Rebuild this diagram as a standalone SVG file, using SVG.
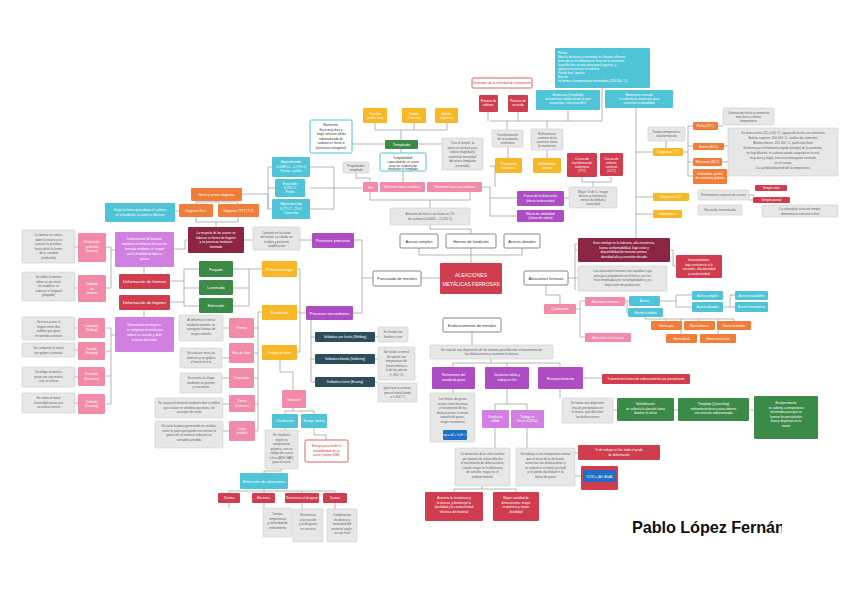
<svg xmlns="http://www.w3.org/2000/svg" width="848" height="599" viewBox="0 0 848 599">
<style>
text{font-family:"Liberation Sans",Arial,sans-serif;text-anchor:middle}
.w{fill:#fff}.k{fill:#333}.g{fill:#666}.rt{fill:#d23b4b}
.s3{font-size:3.1px}.s4{font-size:4px}.s5{font-size:5px}
.l{text-anchor:start}
rect{rx:1.2}
.red{fill:#cf3d4e}.mar{fill:#8c2543}.pink{fill:#f28aa9}.pur{fill:#ad4cc3}.lil{fill:#d17fe0}
.teal{fill:#4ec4d6}.slate{fill:#2e4d5c}.grn{fill:#3c8a48}.yel{fill:#f7b726}.org{fill:#f07e3a}
.gry{fill:#e7e7e7;stroke:#cdcdcd;stroke-width:.6}.wht{fill:#fff;stroke:#555;stroke-width:.7}
.tb{fill:#fff;stroke:#4ec4d6;stroke-width:1}.rb{fill:#fff;stroke:#d23b4b;stroke-width:.8}.blu{fill:#1f6fc6}
.c path{fill:none;stroke:#a3a3a3;stroke-width:.8}
</style>
<rect x="0" y="0" width="848" height="599" fill="#fff" rx="0"/>
<g class="c">
<path d="M419,248V255H522V248M471,255V263M471,248V255"/>
<path d="M430,225V229H471V234"/>
<path d="M440,278H421M373,278H362V240H354M362,278V313H353"/>
<path d="M312,240H300M306,313H300M297,269H300V352H297M297,312H300"/>
<path d="M311,320V382M311,337H315M311,359H315M311,382H315M375,337H378M375,359H378M375,382H378"/>
<path d="M262,269H249V306M233,269H249M233,288H249M233,306H249"/>
<path d="M199,269H184V306H199M199,288H184M170,281H184M170,302H184M144,267V274M144,310V317"/>
<path d="M262,312H258V431H255M254,328H258M254,353H258M254,378H258M254,404H258"/>
<path d="M229,328H223M229,358H222M229,378H222M229,404H223M229,431H223"/>
<path d="M106,247H111V288H106M111,250H115M106,328H111V404H106M106,351H111M106,376H111M111,335H115"/>
<path d="M75,247H78M75,288H78M75,328H78M75,350H78M75,377H78M75,403H78"/>
<path d="M280,360V372H293V390M293,408V411H285V414M293,411H314V414M285,428V430M314,428V435H326V440"/>
<path d="M281,469V471H264V473M264,489V491H229V493M264,491H335V493M264,491V493M302,491V493"/>
<path d="M229,503V508M264,503V508M302,503V509M335,503V509"/>
<path d="M472,332V345M491,359V363H453V367M491,363H560V367M507,363V367"/>
<path d="M453,389V393M507,389V404H495V410M507,404H527V410M495,428V448M527,428V448"/>
<path d="M482,486V489H454V492M482,489H516V492M575,453H578M575,476H581"/>
<path d="M560,389V398M583,378H602M613,410H617M674,410H678M749,410H754"/>
<path d="M546,285V295H560V304M576,309H580V301H585M580,309V337H585"/>
<path d="M625,301H629M627,301V313H628M660,301H676V295H692M676,301V307H692M723,307H730V295H735M730,307H735"/>
<path d="M645,317V319H734M666,319V321M699,319V321M734,319V321M681,319V334M718,319V334"/>
<path d="M568,278H575M575,244V290M575,250H578M575,278H578M575,244H636V226"/>
<path d="M636,108V226M636,152H653M636,197H653M636,214H653M670,250H673V266H676"/>
<path d="M683,152H688M688,126V176M688,126H693M688,146H693M688,162H693M688,176H693M718,126H723M724,146H728M722,162H728M727,176H728"/>
<path d="M666,141V148M742,195H755M749,200H753"/>
<path d="M488,112V121M518,112V121M490,121H602M602,88V121M568,110V121M507,121V130M547,121V129"/>
<path d="M482,187H490V216H517M490,198H517M490,166H495V187M547,150V158M508,147V158"/>
<path d="M582,177V182H611V177M593,182V187M564,198H569"/>
<path d="M370,192V200H470V192M430,200V208"/>
<path d="M310,167H334V209H310M310,188H334M334,188H363"/>
<path d="M401,148V153M418,144H442M385,144H352M375,123V130H447V123M414,123V130M401,130V140M403,171V182M356,173V178H370V182"/>
<path d="M216,201V202H196V204M216,202H238V204M196,217V222H238V217M216,222V227M175,211H179"/>
<path d="M242,194H268V209H272M268,167V209M268,167H272M268,188H275"/>
<path d="M244,240H253M174,249H185V240H188"/>
</g>

<g id="n-aleaciones"><rect class="red" x="440" y="263" width="62" height="31"/><text class="w s5" x="471" y="276.5">ALEACIONES</text><text class="w s5" x="471" y="285.5">METÁLICAS FERROSAS</text></g>
<g id="n-aceros-simples"><rect class="wht" x="400" y="234" width="38" height="14"/><text class="k s4" x="419" y="242.5">Aceros simples</text></g>
<g id="n-hierros-fundicion"><rect class="wht" x="446" y="234" width="50" height="14"/><text class="k s4" x="471" y="242.5">Hierros de fundición</text></g>
<g id="n-aceros-aleados"><rect class="wht" x="504" y="234" width="36" height="14"/><text class="k s4" x="522" y="242.5">Aceros aleados</text></g>
<g id="n-aleaciones-ferrosas"><rect class="wht" x="524" y="271" width="44" height="14"/><text class="k s4" x="546" y="279.5">Aleaciones ferrosas</text></g>
<g id="n-procesado"><rect class="wht" x="373" y="271" width="48" height="15"/><text class="k s4" x="397" y="280">Procesado de metales</text></g>
<g id="n-endurecimiento"><rect class="wht" x="443" y="318" width="58" height="14"/><text class="k s4" x="472" y="326.5">Endurecimiento de metales</text></g>
<g id="n-def-acero"><rect class="gry" x="390" y="208" width="80" height="17"/><text class="g s3" x="430" y="215">Aleación de hierro con hasta un 2%</text><text class="g s3" x="430" y="220">de carbono (0,008% – 2,14% C)</text></g>

<g id="n-fe"><rect class="pink" x="363" y="182" width="15" height="10"/><text class="w s4" x="370.5" y="188.5">Fe</text></g>
<g id="n-fases"><rect class="pink" x="380" y="182" width="45" height="10"/><text class="w s3" x="402.5" y="188.3">Diferentes fases cristalinas</text></g>
<g id="n-fases-c"><rect class="pink" x="427" y="182" width="55" height="10"/><text class="w s3" x="454.5" y="188.3">Diferentes fases con carbono</text></g>
<g id="n-templado"><rect class="grn" x="385" y="140" width="33" height="9"/><text class="w s4" x="401.5" y="146">Templado</text></g>
<g id="n-templabilidad"><rect class="tb" x="380" y="153" width="46" height="18"/><text class="k s3" x="403" y="158.5">Templabilidad:</text><text class="k s3" x="403" y="162.5">capacidad de un acero</text><text class="k s3" x="403" y="166.5">para ser endurecido</text><text class="k s3" x="403" y="170">mediante el templado</text></g>
<g id="n-troostita"><rect class="yel" x="363" y="108" width="24" height="15"/><text class="w s3" x="375" y="114.5">Troostita</text><text class="w s3" x="375" y="118.5">(perlita fina)</text></g>
<g id="n-sorbita"><rect class="yel" x="402" y="108" width="24" height="15"/><text class="w s3" x="414" y="114.5">Sorbita</text><text class="w s3" x="414" y="118.5">(Ostenita)</text></g>
<g id="n-bainita"><rect class="yel" x="435" y="108" width="23" height="15"/><text class="w s3" x="446.5" y="114.5">Bainita</text><text class="w s3" x="446.5" y="118.5">(superior)</text></g>
<g id="n-martensita"><rect class="tb" x="310" y="120" width="42" height="33"/><text class="k s3" x="331" y="126">Martensita:</text><text class="k s3" x="331" y="130.5">Fase muy dura y</text><text class="k s3" x="331" y="135">frágil, solución sólida</text><text class="k s3" x="331" y="139.5">sobresaturada de</text><text class="k s3" x="331" y="144">carbono en hierro α</text><text class="k s3" x="331" y="148.5">(estructura tetragonal)</text></g>
<g id="n-prop-templado"><rect class="gry" x="343" y="162" width="26" height="11"/><text class="g s3" x="356" y="166.5">Propiedades</text><text class="g s3" x="356" y="170.5">templado</text></g>
<g id="n-revenido"><rect class="gry" x="442" y="138" width="41" height="32"/><text class="g s3" x="462.5" y="144">Tras el temple, la</text><text class="g s3" x="462.5" y="148.5">pieza se reviene para</text><text class="g s3" x="462.5" y="153">reducir fragilidad y</text><text class="g s3" x="462.5" y="157.5">aumentar tenacidad</text><text class="g s3" x="462.5" y="162">del acero templado</text><text class="g s3" x="462.5" y="166.5">(revenido)</text></g>
<g id="n-hipo"><rect class="teal" x="272" y="157" width="38" height="20"/><text class="w s3" x="291" y="163">Hipoeutectoide</text><text class="w s3" x="291" y="167.5">(0,008% C - 0,77% C)</text><text class="w s3" x="291" y="172">Ferrita + perlita</text></g>
<g id="n-eutectoide"><rect class="teal" x="275" y="179" width="30" height="18"/><text class="w s3" x="290" y="184.5">Eutectoide</text><text class="w s3" x="290" y="188.8">0,77% C</text><text class="w s3" x="290" y="193">Perlita</text></g>
<g id="n-hiper"><rect class="teal" x="272" y="199" width="38" height="20"/><text class="w s3" x="291" y="205">Hipereutectoide</text><text class="w s3" x="291" y="209.5">0,77% C - 2% C</text><text class="w s3" x="291" y="214">Cementita</text></g>

<g id="n-hierro-aceros"><rect class="org" x="191" y="188" width="51" height="13"/><text class="w s3" x="216.5" y="195.8">Hierro y aceros: diagrama</text></g>
<g id="n-diag-fec"><rect class="org" x="179" y="204" width="34" height="13"/><text class="w s3" x="196" y="211.8">Diagrama Fe-C</text></g>
<g id="n-diag-ttt"><rect class="org" x="218" y="204" width="41" height="13"/><text class="w s3" x="238.5" y="211.8">Diagrama TTT (T-T-T)</text></g>
<g id="n-forma-c"><rect class="teal" x="105" y="203" width="70" height="19" rx="6"/><text class="w s3" x="140" y="210.5">Según la forma que adopta el carbono</text><text class="w s3" x="140" y="215.5">en la fundición, su color es diferente</text></g>

<g id="n-lingotes"><rect class="mar" x="188" y="227" width="56" height="26"/><text class="w s3" x="216" y="234">La mayoría de los aceros se</text><text class="w s3" x="216" y="238.5">fabrican en forma de lingotes</text><text class="w s3" x="216" y="243">y se procesan mediante</text><text class="w s3" x="216" y="247.5">laminado</text></g>
<g id="n-fusion"><rect class="gry" x="253" y="227" width="47" height="23"/><text class="g s3" x="276.5" y="233.5">Consiste en la fusión</text><text class="g s3" x="276.5" y="238">del metal, su colada en</text><text class="g s3" x="276.5" y="242.5">moldes y posterior</text><text class="g s3" x="276.5" y="247">solidificación</text></g>
<g id="n-primarios"><rect class="pur" x="312" y="233" width="42" height="15"/><text class="w s4" x="333" y="242">Procesos primarios</text></g>
<g id="n-conf-laminas"><rect class="lil" x="115" y="232" width="59" height="35"/><text class="w s3" x="144.5" y="240">Conformación de láminas:</text><text class="w s3" x="144.5" y="245">mediante el esfuerzo de tracción</text><text class="w s3" x="144.5" y="250">formado mediante un troquel</text><text class="w s3" x="144.5" y="255">con la finalidad de fabricar</text><text class="w s3" x="144.5" y="260">piezas</text></g>
<g id="n-def-laminas"><rect class="red" x="119" y="274" width="51" height="15"/><text class="w s4" x="144.5" y="283">Deformación de láminas</text></g>
<g id="n-def-lingotes"><rect class="red" x="119" y="295" width="51" height="15"/><text class="w s4" x="144.5" y="304">Deformación de lingotes</text></g>
<g id="n-def-lingotes2"><rect class="lil" x="115" y="317" width="59" height="35"/><text class="w s3" x="144.5" y="326">Deformación en lingotes:</text><text class="w s3" x="144.5" y="331">se comprime el metal para</text><text class="w s3" x="144.5" y="336">reducir su sección y darle</text><text class="w s3" x="144.5" y="341">la forma del molde</text></g>
<g id="n-forjado"><rect class="grn" x="199" y="261" width="34" height="16"/><text class="w s4" x="216" y="270.5">Forjado</text></g>
<g id="n-laminado"><rect class="grn" x="199" y="280" width="34" height="15"/><text class="w s4" x="216" y="289">Laminado</text></g>
<g id="n-extrusion"><rect class="grn" x="199" y="298" width="34" height="15"/><text class="w s4" x="216" y="307">Extrusión</text></g>
<g id="n-pulvi"><rect class="yel" x="262" y="261" width="35" height="16"/><text class="w s4" x="279.5" y="270.5">Pulvimetalurgia</text></g>
<g id="n-fundicion"><rect class="yel" x="262" y="305" width="35" height="15"/><text class="w s4" x="279.5" y="314">Fundición</text></g>
<g id="n-viruta"><rect class="yel" x="262" y="345" width="35" height="15"/><text class="w s3" x="279.5" y="353.8">Trabajo de viruta</text></g>
<g id="n-secundarios"><rect class="pur" x="306" y="306" width="47" height="14"/><text class="w s4" x="329.5" y="314.5">Procesos secundarios</text></g>
<g id="n-welding"><rect class="slate" x="315" y="332" width="60" height="10"/><text class="w s3" x="345" y="338.2">Soldadura por fusión (Welding)</text></g>
<g id="n-soldering"><rect class="slate" x="315" y="354" width="60" height="10"/><text class="w s3" x="345" y="360.2">Soldadura blanda (Soldering)</text></g>
<g id="n-brazing"><rect class="slate" x="315" y="377" width="60" height="10"/><text class="w s3" x="345" y="383.2">Soldadura fuerte (Brazing)</text></g>
<g id="n-welding-note"><rect class="gry" x="378" y="327" width="30" height="15"/><text class="g s3" x="393" y="333">Se funden los</text><text class="g s3" x="393" y="337.5">bordes a unir</text></g>
<g id="n-soldering-note"><rect class="gry" x="378" y="347" width="37" height="33"/><text class="g s3" x="396.5" y="353">Se funde un metal</text><text class="g s3" x="396.5" y="357.5">de aporte con</text><text class="g s3" x="396.5" y="362">temperatura de</text><text class="g s3" x="396.5" y="366.5">fusión inferior a</text><text class="g s3" x="396.5" y="371">la de las piezas</text><text class="g s3" x="396.5" y="375.5">(&lt; 450 °C)</text></g>
<g id="n-brazing-note"><rect class="gry" x="378" y="383" width="39" height="19"/><text class="g s3" x="397.5" y="389">Igual que la anterior,</text><text class="g s3" x="397.5" y="393.5">pero el metal funde</text><text class="g s3" x="397.5" y="398">a &gt; 450 °C</text></g>

<g id="n-p-prensa"><rect class="pink" x="229" y="318" width="25" height="20"/><text class="w s3" x="241.5" y="329">Prensa</text></g>
<g id="n-p-hoja"><rect class="pink" x="229" y="343" width="25" height="20"/><text class="w s3" x="241.5" y="354">Hoja de Steel</text></g>
<g id="n-p-ensayo"><rect class="pink" x="229" y="368" width="25" height="20"/><text class="w s3" x="241.5" y="379">Troquelado</text></g>
<g id="n-p-cortes"><rect class="pink" x="229" y="395" width="26" height="17"/><text class="w s3" x="242" y="402">Cortes</text><text class="w s3" x="242" y="406.5">(Cortante)</text></g>
<g id="n-p-corte"><rect class="pink" x="229" y="421" width="26" height="20"/><text class="w s3" x="242" y="429.5">Corte</text><text class="w s3" x="242" y="434">perdido</text></g>
<g id="n-g1"><rect class="gry" x="179" y="315" width="44" height="26"/><text class="g s3" x="201" y="321">Al deformar el metal</text><text class="g s3" x="201" y="325.5">mediante presión, se</text><text class="g s3" x="201" y="330">consiguen formas de</text><text class="g s3" x="201" y="334.5">mayor tamaño</text></g>
<g id="n-g2"><rect class="gry" x="180" y="348" width="42" height="20"/><text class="g s3" x="201" y="354">Se colocan entre las</text><text class="g s3" x="201" y="358.5">matrices y se golpea</text><text class="g s3" x="201" y="363">el metal en frío</text></g>
<g id="n-g3"><rect class="gry" x="180" y="373" width="42" height="20"/><text class="g s3" x="201" y="379">Se recorta la chapa</text><text class="g s3" x="201" y="383.5">mediante un punzón</text><text class="g s3" x="201" y="388">y una matriz</text></g>
<g id="n-g4"><rect class="gry" x="155" y="398" width="68" height="20"/><text class="g s3" x="189" y="404">Se separa el material mediante dos cuchillas</text><text class="g s3" x="189" y="408.5">que actúan en sentidos opuestos, sin</text><text class="g s3" x="189" y="413">arranque de viruta</text></g>
<g id="n-g5"><rect class="gry" x="155" y="421" width="68" height="27"/><text class="g s3" x="189" y="427">Se corta la pieza generando un residuo,</text><text class="g s3" x="189" y="431.5">como la parte que queda tras extraer la</text><text class="g s3" x="189" y="436">pieza útil; el material sobrante se</text><text class="g s3" x="189" y="440.5">considera pérdida</text></g>

<g id="n-fl1"><rect class="gry" x="22" y="230" width="53" height="33"/><text class="g s3" x="48.5" y="236">La lámina se coloca</text><text class="g s3" x="48.5" y="240.5">sobre la matriz y un</text><text class="g s3" x="48.5" y="245">punzón la presiona</text><text class="g s3" x="48.5" y="249.5">hasta darle la forma</text><text class="g s3" x="48.5" y="254">de la cavidad</text><text class="g s3" x="48.5" y="258.5">(embutido)</text></g>
<g id="n-fp1"><rect class="pink" x="78" y="233" width="28" height="29"/><text class="w s3" x="92" y="243">Embutición</text><text class="w s3" x="92" y="247.5">profunda</text><text class="w s3" x="92" y="252">(láminas)</text></g>
<g id="n-fl2"><rect class="gry" x="22" y="272" width="53" height="29"/><text class="g s3" x="48.5" y="278">Se dobla la lámina</text><text class="g s3" x="48.5" y="282.5">sobre un eje recto,</text><text class="g s3" x="48.5" y="287">sin modificar su</text><text class="g s3" x="48.5" y="291.5">espesor ni longitud</text><text class="g s3" x="48.5" y="296">(plegado)</text></g>
<g id="n-fp2"><rect class="pink" x="78" y="275" width="28" height="27"/><text class="w s3" x="92" y="285">Doblado</text><text class="w s3" x="92" y="289.5">de</text><text class="w s3" x="92" y="294">láminas</text></g>
<g id="n-fl3"><rect class="gry" x="22" y="317" width="53" height="23"/><text class="g s3" x="48.5" y="323">Se hace pasar el</text><text class="g s3" x="48.5" y="327.5">lingote entre dos</text><text class="g s3" x="48.5" y="332">rodillos que giran</text><text class="g s3" x="48.5" y="336.5">en sentido contrario</text></g>
<g id="n-fp3"><rect class="pink" x="78" y="318" width="27" height="20"/><text class="w s3" x="91.5" y="326.5">Laminado</text><text class="w s3" x="91.5" y="331">(Rolling)</text></g>
<g id="n-fl4"><rect class="gry" x="22" y="343" width="53" height="14"/><text class="g s3" x="48.5" y="349">Se comprime el metal</text><text class="g s3" x="48.5" y="353.5">por golpes o presión</text></g>
<g id="n-fp4"><rect class="pink" x="78" y="342" width="27" height="18"/><text class="w s3" x="91.5" y="349.5">Forjado</text><text class="w s3" x="91.5" y="354">(Forging)</text></g>
<g id="n-fl5"><rect class="gry" x="22" y="367" width="53" height="20"/><text class="g s3" x="48.5" y="373">Se obliga al metal a</text><text class="g s3" x="48.5" y="377.5">pasar por una matriz</text><text class="g s3" x="48.5" y="382">con un orificio</text></g>
<g id="n-fp5"><rect class="pink" x="78" y="367" width="27" height="19"/><text class="w s3" x="91.5" y="375">Extrusión</text><text class="w s3" x="91.5" y="379.5">(Extrusion)</text></g>
<g id="n-fl6"><rect class="gry" x="22" y="393" width="53" height="20"/><text class="g s3" x="48.5" y="399">Se estira el metal</text><text class="g s3" x="48.5" y="403.5">haciéndolo pasar por</text><text class="g s3" x="48.5" y="408">un orificio cónico</text></g>
<g id="n-fp6"><rect class="pink" x="78" y="394" width="27" height="20"/><text class="w s3" x="91.5" y="402.5">Trefilado</text><text class="w s3" x="91.5" y="407">(Drawing)</text></g>

<g id="n-soldadura"><rect class="pink" x="282" y="390" width="24" height="18"/><text class="w s3" x="294" y="400.5">Selección</text></g>
<g id="n-clasificacion"><rect class="teal" x="272" y="414" width="26" height="14"/><text class="w s3" x="285" y="422.3">Clasificación</text></g>
<g id="n-jominy"><rect class="teal" x="301" y="414" width="26" height="14"/><text class="w s3" x="314" y="422.3">Ensayo Jominy</text></g>
<g id="n-clas-note"><rect class="gry" x="265" y="430" width="33" height="39"/><text class="g s3" x="281.5" y="436">Se clasifican</text><text class="g s3" x="281.5" y="440.5">según su</text><text class="g s3" x="281.5" y="445">composición</text><text class="g s3" x="281.5" y="449.5">química, con un</text><text class="g s3" x="281.5" y="454">código de cuatro</text><text class="g s3" x="281.5" y="458.5">cifras (AISI-SAE)</text><text class="g s3" x="281.5" y="463">para el acero</text></g>
<g id="n-jominy-note"><rect class="rb" x="305" y="440" width="43" height="22"/><text class="rt s3" x="326.5" y="447">Ensayo para medir la</text><text class="rt s3" x="326.5" y="451.5">templabilidad de un</text><text class="rt s3" x="326.5" y="456">acero (norma UNE)</text></g>
<g id="n-seleccion"><rect class="teal" x="240" y="473" width="48" height="16"/><text class="w s4" x="264" y="482.5">Selección de aleaciones</text></g>
<g id="n-termica"><rect class="red" x="218" y="493" width="22" height="10"/><text class="w s3" x="229" y="499.2">Térmica</text></g>
<g id="n-mecanica"><rect class="red" x="252" y="493" width="23" height="10"/><text class="w s3" x="263.5" y="499.2">Mecánica</text></g>
<g id="n-resistencia"><rect class="red" x="285" y="493" width="34" height="10"/><text class="w s3" x="302" y="499.2">Resistencia al desgaste</text></g>
<g id="n-dureza"><rect class="red" x="323" y="493" width="24" height="10"/><text class="w s3" x="335" y="499.2">Dureza</text></g>
<g id="n-sel-g1"><rect class="gry" x="263" y="508" width="29" height="29"/><text class="g s3" x="277.5" y="515">Tiempo,</text><text class="g s3" x="277.5" y="519.5">temperatura</text><text class="g s3" x="277.5" y="524">y velocidad de</text><text class="g s3" x="277.5" y="528.5">enfriamiento</text></g>
<g id="n-sel-g2"><rect class="gry" x="293" y="509" width="30" height="33"/><text class="g s3" x="308" y="516">Resistencia</text><text class="g s3" x="308" y="520.5">a la tracción</text><text class="g s3" x="308" y="525">y al desgaste</text><text class="g s3" x="308" y="529.5">en servicio</text></g>
<g id="n-sel-g3"><rect class="gry" x="327" y="509" width="30" height="33"/><text class="g s3" x="342" y="516">Combinación</text><text class="g s3" x="342" y="520.5">de dureza y</text><text class="g s3" x="342" y="525">tenacidad del</text><text class="g s3" x="342" y="529.5">material según</text><text class="g s3" x="342" y="534">su uso final</text></g>

<g id="n-distribucion"><rect class="gry" x="430" y="345" width="123" height="14"/><text class="g s3" x="491.5" y="350.8">Se trata de una disposición de los átomos para dificultar el movimiento de</text><text class="g s3" x="491.5" y="355.3">las dislocaciones y aumentar la dureza</text></g>
<g id="n-grano"><rect class="pur" x="432" y="367" width="43" height="22"/><text class="w s3" x="453.5" y="376">Refinamiento del</text><text class="w s3" x="453.5" y="380.5">tamaño de grano</text></g>
<g id="n-soluto"><rect class="pur" x="485" y="367" width="44" height="22"/><text class="w s3" x="507" y="376">Disolución sólida y</text><text class="w s3" x="507" y="380.5">trabajo en frío</text></g>
<g id="n-envejecimiento"><rect class="pur" x="538" y="367" width="45" height="22"/><text class="w s4" x="560.5" y="379.5">Envejecimiento</text></g>
<g id="n-hallpetch"><rect class="gry" x="430" y="393" width="45" height="49"/><text class="g s3" x="452.5" y="400">Los límites de grano</text><text class="g s3" x="452.5" y="404.5">actúan como barreras</text><text class="g s3" x="452.5" y="409">al movimiento de las</text><text class="g s3" x="452.5" y="413.5">dislocaciones; a menor</text><text class="g s3" x="452.5" y="418">tamaño de grano,</text><text class="g s3" x="452.5" y="422.5">mayor resistencia</text><rect class="blu" x="443" y="430" width="24" height="10"/><text class="w s3" x="455" y="436.2">σy = σ0 + k·d^-½</text></g>
<g id="n-solucion"><rect class="lil" x="482" y="410" width="27" height="18"/><text class="w s3" x="495.5" y="417.5">Disolución</text><text class="w s3" x="495.5" y="422">sólida</text></g>
<g id="n-frio"><rect class="lil" x="511" y="410" width="33" height="18"/><text class="w s3" x="527.5" y="417.5">Trabajo en</text><text class="w s3" x="527.5" y="422">frío (&lt; 0,33Tm)</text></g>
<g id="n-sol-note"><rect class="gry" x="455" y="448" width="55" height="38"/><text class="g s3" x="482.5" y="455">La distorsión de la red cristalina</text><text class="g s3" x="482.5" y="459.5">por átomos de soluto dificulta</text><text class="g s3" x="482.5" y="464">el movimiento de dislocaciones;</text><text class="g s3" x="482.5" y="468.5">cuanto mayor es la diferencia</text><text class="g s3" x="482.5" y="473">de tamaño, mayor es el</text><text class="g s3" x="482.5" y="477.5">endurecimiento</text></g>
<g id="n-frio-note"><rect class="gry" x="516" y="448" width="59" height="38"/><text class="g s3" x="545.5" y="455">Se trabaja a una temperatura menor</text><text class="g s3" x="545.5" y="459.5">que el tercio de la de fusión;</text><text class="g s3" x="545.5" y="464">aumentan las dislocaciones y</text><text class="g s3" x="545.5" y="468.5">se endurece el metal (acritud)</text><text class="g s3" x="545.5" y="473">y se pierde ductilidad en la</text><text class="g s3" x="545.5" y="477.5">forma de grano</text></g>
<g id="n-red1"><rect class="red" x="425" y="492" width="58" height="29"/><text class="w s3" x="454" y="499">Aumenta la resistencia y</text><text class="w s3" x="454" y="503.5">la dureza, y disminuye la</text><text class="w s3" x="454" y="508">ductilidad y la conductividad</text><text class="w s3" x="454" y="512.5">eléctrica del material</text></g>
<g id="n-red2"><rect class="red" x="493" y="492" width="46" height="29"/><text class="w s3" x="516" y="499">Mayor cantidad de</text><text class="w s3" x="516" y="503.5">dislocaciones: mayor</text><text class="w s3" x="516" y="508">resistencia y menor</text><text class="w s3" x="516" y="512.5">ductilidad</text></g>
<g id="n-pct-frio"><rect class="red" x="578" y="445" width="82" height="15"/><text class="w s3" x="619" y="451.3">% de trabajo en frío: mide el grado</text><text class="w s3" x="619" y="455.8">de deformación</text></g>
<g id="n-formula"><rect class="red" x="581" y="466" width="37" height="24"/><rect class="blu" x="583" y="470" width="33" height="12"/><text class="w s3" x="599.5" y="477.5">%CW = (A0−Af)/A0</text></g>
<g id="n-env-note"><rect class="gry" x="562" y="398" width="51" height="25"/><text class="g s3" x="587.5" y="404">Se forma una dispersión</text><text class="g s3" x="587.5" y="408.5">fina de precipitados en</text><text class="g s3" x="587.5" y="413">la matriz, que dificultan</text><text class="g s3" x="587.5" y="417.5">las dislocaciones</text></g>
<g id="n-env-red"><rect class="red" x="602" y="374" width="88" height="10"/><text class="w s3" x="646" y="380.2">Tratamiento térmico de endurecimiento por precipitación</text></g>
<g id="n-solubilizacion"><rect class="grn" x="617" y="398" width="57" height="23"/><text class="w s3" x="645.5" y="405">Solubilización</text><text class="w s3" x="645.5" y="409.5">se calienta la aleación hasta</text><text class="w s3" x="645.5" y="414">disolver el soluto</text></g>
<g id="n-quenching"><rect class="grn" x="678" y="398" width="71" height="23"/><text class="w s3" x="713.5" y="405">Templado (Quenching)</text><text class="w s3" x="713.5" y="409.5">enfriamiento brusco para obtener</text><text class="w s3" x="713.5" y="414">una solución sobresaturada</text></g>
<g id="n-aging"><rect class="grn" x="754" y="396" width="64" height="43"/><text class="w s3" x="786" y="404">Envejecimiento</text><text class="w s3" x="786" y="408.5">se calienta a temperatura</text><text class="w s3" x="786" y="413">intermedia para que se</text><text class="w s3" x="786" y="417.5">formen los precipitados</text><text class="w s3" x="786" y="422">finos y dispersos en la</text><text class="w s3" x="786" y="426.5">matriz</text></g>

<g id="n-gran-maroon"><rect class="mar" x="578" y="238" width="92" height="24"/><text class="w s3" x="624" y="244">Gran tonelaje en la industria, alta resistencia,</text><text class="w s3" x="624" y="248.5">buena conformabilidad, bajo coste y</text><text class="w s3" x="624" y="253">disponibilidad de materias primas;</text><text class="w s3" x="624" y="257.5">densidad alta y corrosión elevada</text></g>
<g id="n-gran-gray"><rect class="gry" x="578" y="266" width="89" height="25"/><text class="g s3" x="622.5" y="272">Las aleaciones ferrosas son aquellas cuyo</text><text class="g s3" x="622.5" y="276.5">principal componente es el hierro; son las</text><text class="g s3" x="622.5" y="281">más empleadas por sus propiedades y su</text><text class="g s3" x="622.5" y="285.5">bajo coste de producción</text></g>
<g id="n-prop-red"><rect class="red" x="676" y="255" width="46" height="23"/><text class="w s3" x="699" y="261">Inconvenientes:</text><text class="w s3" x="699" y="265.5">baja resistencia a la</text><text class="w s3" x="699" y="270">corrosión, alta densidad</text><text class="w s3" x="699" y="274.5">y conductividad</text></g>
<g id="n-clasif"><rect class="pink" x="544" y="304" width="32" height="10"/><text class="w s3" x="560" y="310.2">Clasificación</text></g>
<g id="n-al-ferrosas"><rect class="pink" x="585" y="297" width="40" height="9"/><text class="w s3" x="605" y="302.8">Aleaciones ferrosas</text></g>
<g id="n-al-noferrosas"><rect class="pink" x="585" y="333" width="46" height="9"/><text class="w s3" x="608" y="338.8">Aleaciones no ferrosas</text></g>
<g id="n-aceros"><rect class="teal" x="629" y="296" width="31" height="10"/><text class="w s3" x="644.5" y="302.2">Aceros</text></g>
<g id="n-hfundidos"><rect class="teal" x="628" y="308" width="35" height="9"/><text class="w s3" x="645.5" y="313.8">Hierros fundidos</text></g>
<g id="n-ac-simples"><rect class="teal" x="692" y="291" width="31" height="9"/><text class="w s3" x="707.5" y="296.8">Aceros simples</text></g>
<g id="n-ac-aleados"><rect class="teal" x="692" y="302" width="31" height="10"/><text class="w s3" x="707.5" y="308.2">Aceros aleados</text></g>
<g id="n-ac-inox"><rect class="teal" x="735" y="291" width="33" height="9"/><text class="w s3" x="751.5" y="296.8">Aceros inoxidables</text></g>
<g id="n-ac-herr"><rect class="teal" x="735" y="302" width="33" height="10"/><text class="w s3" x="751.5" y="308.2">Aceros herramienta</text></g>
<g id="n-h-gris"><rect class="org" x="651" y="321" width="31" height="9"/><text class="w s3" x="666.5" y="326.8">Hierro gris</text></g>
<g id="n-h-blanco"><rect class="org" x="684" y="321" width="31" height="9"/><text class="w s3" x="699.5" y="326.8">Hierro blanco</text></g>
<g id="n-h-maleable"><rect class="org" x="717" y="321" width="34" height="9"/><text class="w s3" x="734" y="326.8">Hierro maleable</text></g>
<g id="n-h-ductil"><rect class="org" x="666" y="334" width="31" height="9"/><text class="w s3" x="681.5" y="339.8">Hierro dúctil</text></g>
<g id="n-h-vermicular"><rect class="org" x="700" y="334" width="36" height="9"/><text class="w s3" x="718" y="339.8">Hierro vermicular</text></g>

<g id="n-teal-big"><rect class="teal" x="555" y="48" width="95" height="40"/><text class="w s3 l" x="558" y="53.5">Perlita:</text><text class="w s3 l" x="558" y="57.5">Mezcla de ferrita y cementita en láminas alternas</text><text class="w s3 l" x="558" y="61.5">formada en el enfriamiento lento de la austenita;</text><text class="w s3 l" x="558" y="65.5">la perlita fina es más dura que la gruesa, y</text><text class="w s3 l" x="558" y="69.5">aparece en aceros al carbono.</text><text class="w s3 l" x="558" y="73.5">Perlita fina / gruesa</text><text class="w s3 l" x="558" y="77.5">Bainita:</text><text class="w s3 l" x="558" y="81.5">se forma a temperaturas intermedias (250-550 °C)</text></g>
<g id="n-teal-mt"><rect class="teal" x="536" y="90" width="64" height="20"/><text class="w s3" x="568" y="95.5">Martensita (Templado)</text><text class="w s3" x="568" y="99.5">enfriamiento rápido desde la fase</text><text class="w s3" x="568" y="103.5">austenítica, estructura BCT</text></g>
<g id="n-teal-rev"><rect class="teal" x="605" y="90" width="68" height="18"/><text class="w s3" x="639" y="95.5">Martensita revenida</text><text class="w s3" x="639" y="99.5">se calienta la martensita para</text><text class="w s3" x="639" y="103.5">aumentar su ductilidad</text></g>
<g id="n-rb-note"><rect class="rb" x="472" y="78" width="60" height="10"/><text class="rt s3" x="502" y="84.2">Dependen de la velocidad de enfriamiento</text></g>
<g id="n-rc1"><rect class="red" x="479" y="95" width="19" height="17"/><text class="w s3" x="488.5" y="101.5">Proceso de</text><text class="w s3" x="488.5" y="105.5">enfriam.</text></g>
<g id="n-rc2"><rect class="red" x="508" y="95" width="20" height="17"/><text class="w s3" x="518" y="101.5">Proceso de</text><text class="w s3" x="518" y="105.5">recocido</text></g>
<g id="n-gt1"><rect class="gry" x="492" y="130" width="31" height="17"/><text class="g s3" x="507.5" y="136">Transformación</text><text class="g s3" x="507.5" y="140">de la austenita</text><text class="g s3" x="507.5" y="144">isotérmica</text></g>
<g id="n-gt2"><rect class="gry" x="531" y="129" width="32" height="21"/><text class="g s3" x="547" y="135">Enfriamiento</text><text class="g s3" x="547" y="139">continuo de la</text><text class="g s3" x="547" y="143">austenita hasta</text><text class="g s3" x="547" y="147">la martensita</text></g>
<g id="n-y1"><rect class="yel" x="495" y="158" width="27" height="15"/><text class="w s3" x="508.5" y="164.5">Tratamiento</text><text class="w s3" x="508.5" y="168.5">isotérmico</text></g>
<g id="n-y2"><rect class="yel" x="533" y="158" width="28" height="15"/><text class="w s3" x="547" y="164.5">Enfriamiento</text><text class="w s3" x="547" y="168.5">continuo</text></g>
<g id="n-r3"><rect class="red" x="567" y="153" width="30" height="24"/><text class="w s3" x="582" y="159.5">Curvas de</text><text class="w s3" x="582" y="163.5">transformación</text><text class="w s3" x="582" y="167.5">isotérmica</text><text class="w s3" x="582" y="171.5">(TTT)</text></g>
<g id="n-r4"><rect class="red" x="600" y="153" width="23" height="23"/><text class="w s3" x="611.5" y="159.5">Curvas de</text><text class="w s3" x="611.5" y="163.5">enfriam.</text><text class="w s3" x="611.5" y="167.5">continuo</text><text class="w s3" x="611.5" y="171.5">(CCT)</text></g>
<g id="n-pu1"><rect class="pur" x="517" y="191" width="47" height="15"/><text class="w s3" x="540.5" y="197">Fuerza de la dislocación</text><text class="w s3" x="540.5" y="201.5">(efecto endurecedor)</text></g>
<g id="n-pu2"><rect class="pur" x="517" y="210" width="47" height="12"/><text class="w s3" x="540.5" y="215">Efecto de solubilidad</text><text class="w s3" x="540.5" y="219">(efecto de soluto)</text></g>
<g id="n-g93"><rect class="gry" x="569" y="187" width="48" height="21"/><text class="g s3" x="593" y="193">Mayor % de C: mayor</text><text class="g s3" x="593" y="197">dureza y resistencia,</text><text class="g s3" x="593" y="201">menor ductilidad y</text><text class="g s3" x="593" y="205">tenacidad</text></g>
<g id="n-y3"><rect class="yel" x="653" y="148" width="30" height="8"/><text class="w s3" x="668" y="153.2">Diagramas TTT</text></g>
<g id="n-y4"><rect class="yel" x="653" y="193" width="36" height="8"/><text class="w s3" x="671" y="198.2">Diagramas CCT</text></g>
<g id="n-y5"><rect class="yel" x="653" y="210" width="29" height="8"/><text class="w s3" x="667.5" y="215.2">Tratamientos</text></g>
<g id="n-o1"><rect class="org" x="693" y="122" width="25" height="8"/><text class="w s3" x="705.5" y="127.2">Perlita (TTT)</text></g>
<g id="n-o2"><rect class="org" x="693" y="143" width="31" height="7"/><text class="w s3" x="708.5" y="147.8">Bainita (BCC)</text></g>
<g id="n-o3"><rect class="org" x="693" y="158" width="29" height="8"/><text class="w s3" x="707.5" y="163.2">Martensita (BCT)</text></g>
<g id="n-o4"><rect class="org" x="693" y="169" width="34" height="15"/><text class="w s3" x="710" y="175">Esferoidita: perlita</text><text class="w s3" x="710" y="179">de cementita globular</text></g>
<g id="n-g96"><rect class="gry" x="648" y="127" width="37" height="14"/><text class="g s3" x="666.5" y="132.5">Tiempo-temperatura-</text><text class="g s3" x="666.5" y="136.5">transformación</text></g>
<g id="n-g97"><rect class="gry" x="723" y="108" width="51" height="17"/><text class="g s3" x="748.5" y="114">Láminas de ferrita y cementita</text><text class="g s3" x="748.5" y="118">más finas a menor</text><text class="g s3" x="748.5" y="122">temperatura</text></g>
<g id="n-g98"><rect class="gry" x="728" y="128" width="110" height="48"/><text class="g s3" x="783" y="134">Se forma entre 215 y 540 °C, agujas de ferrita con cementita</text><text class="g s3" x="783" y="139">Bainita superior: 300-540 °C, varillas de cementita</text><text class="g s3" x="783" y="144">Bainita inferior: 215-300 °C, partículas finas</text><text class="g s3" x="783" y="149">Se forma por enfriamiento rápido (temple) de la austenita;</text><text class="g s3" x="783" y="154">no hay difusión, el carbono queda atrapado en la red,</text><text class="g s3" x="783" y="159">muy dura y frágil, estructura tetragonal centrada</text><text class="g s3" x="783" y="164">en el cuerpo</text><text class="g s3" x="783" y="169">La cantidad depende de la temperatura</text></g>
<g id="n-g99"><rect class="gry" x="698" y="190" width="51" height="10"/><text class="g s3" x="723.5" y="196.2">Enfriamiento continuo de aceros</text></g>
<g id="n-g99b"><rect class="gry" x="698" y="205" width="44" height="10"/><text class="g s3" x="720" y="211.2">Recocido, normalizado</text></g>
<g id="n-r100"><rect class="red" x="755" y="185" width="32" height="6"/><text class="w s3" x="771" y="189.2">Temple total</text></g>
<g id="n-r101"><rect class="red" x="753" y="197" width="37" height="6"/><text class="w s3" x="771.5" y="201.2">Temple parcial</text></g>
<g id="n-g102"><rect class="gry" x="762" y="205" width="76" height="12"/><text class="g s3" x="800" y="210">La velocidad crítica de temple</text><text class="g s3" x="800" y="214.5">determina la estructura final</text></g>

<defs><clipPath id="cp"><rect x="600" y="505" width="182" height="40" rx="0"/></clipPath></defs>
<g id="author" clip-path="url(#cp)"><text x="632" y="533" font-size="16.3" font-weight="bold" fill="#111" class="l" letter-spacing="-0.1">Pablo López Fernán</text></g>
</svg>
